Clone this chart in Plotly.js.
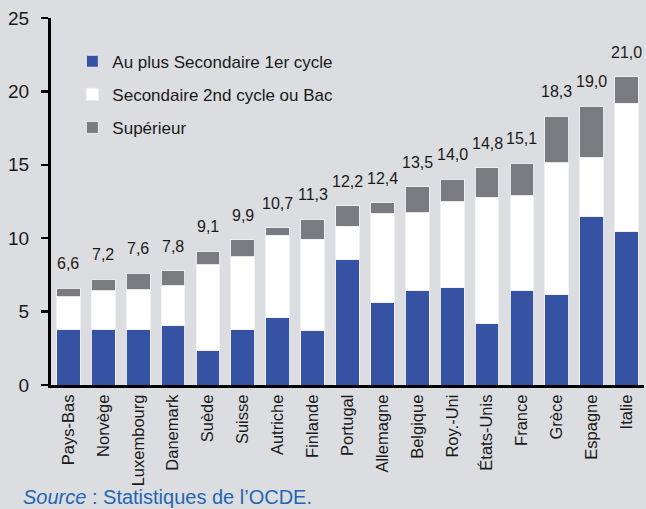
<!DOCTYPE html>
<html>
<head>
<meta charset="utf-8">
<script src="https://cdn.plot.ly/plotly-3.0.1.min.js"></script>
<style>html,body{margin:0;padding:0;background:#dcdde0;}</style>
</head>
<body>
<div id="chart" style="width:646px;height:509px;"></div>
<script>
const countries = ["Pays-Bas","Norvège","Luxembourg","Danemark","Suède","Suisse","Autriche","Finlande","Portugal","Allemagne","Belgique","Roy.-Uni","États-Unis","France","Grèce","Espagne","Italie"];
const seriesNames = ["Au plus Secondaire 1er cycle","Secondaire 2nd cycle ou Bac","Supérieur"];
const lowerSecondary = [3.8,3.75,3.77,4.04,2.32,3.75,4.57,3.7,8.52,5.64,6.43,6.61,4.16,6.45,6.16,11.5,10.45];
const upperSecondary = [2.2,2.68,2.73,2.73,5.88,5.0,5.63,6.23,2.28,6.04,5.32,5.89,8.64,6.43,8.99,4.0,8.75];
const tertiary = [0.6,0.77,1.1,1.03,0.9,1.15,0.5,1.37,1.4,0.72,1.75,1.5,2.0,2.22,3.15,3.5,1.8];
const totals = [6.6,7.2,7.6,7.8,9.1,9.9,10.7,11.3,12.2,12.4,13.5,14.0,14.8,15.1,18.3,19.0,21.0];
const yTicks = [0,5,10,15,20,25];

const colors = ["#3652a3","#ffffff","#7a7b80"];
const font = "Liberation Sans, Arial, sans-serif";

const seriesValues = [lowerSecondary, upperSecondary, tertiary];
const traces = seriesValues.map((vals, i) => ({
  type: "bar",
  name: seriesNames[i],
  x: countries,
  y: vals,
  legendgroup: "g" + i,
  marker: {color: colors[i], line: {color: "rgba(240,240,246,0.9)", width: 1}},
  hoverinfo: "skip"
}));

const annotations = countries.map((c, i) => ({
  x: c, y: totals[i], xref: "x", yref: "y",
  text: totals[i].toFixed(1).replace(".", ","),
  showarrow: false, yanchor: "bottom", yshift: 14,
  font: {family: font, size: 16, color: "#1a1a1a"}
}));
annotations.push({
  xref: "paper", yref: "paper", x: -0.05, y: -0.305,
  xanchor: "left", yanchor: "middle", showarrow: false,
  text: "<i>Source</i> : Statistiques de l’OCDE.",
  font: {family: font, size: 20, color: "#2466b3"}
});

const layout = {
  width: 646, height: 509,
  margin: {l: 51, r: 2, t: 17.5, b: 124},
  paper_bgcolor: "#dcdde0",
  plot_bgcolor: "#dcdde0",
  barmode: "stack",
  bargap: 0.32,
  showlegend: true,
  legend: {
    x: 0.036, y: 0.93, xanchor: "left", yanchor: "top",
    bgcolor: "rgba(0,0,0,0)",
    traceorder: "grouped", tracegroupgap: 8,
    font: {family: font, size: 17, color: "#1a1a1a"}
  },
  xaxis: {
    type: "category",
    range: [-0.5, 16.5],
    showline: true, linecolor: "#000", linewidth: 3,
    ticks: "", tickangle: -90,
    ticklabelstandoff: 0,
    tickfont: {family: font, size: 16.5, color: "#1a1a1a"},
    showgrid: false, zeroline: false, fixedrange: true
  },
  yaxis: {
    range: [0, 25],
    tickvals: yTicks,
    ticktext: yTicks.map(String),
    showline: true, linecolor: "#000", linewidth: 3,
    ticks: "outside", ticklen: 7, tickwidth: 2.5, tickcolor: "#000",
    ticklabelstandoff: 8,
    tickfont: {family: font, size: 19, color: "#1a1a1a"},
    showgrid: false, zeroline: false, fixedrange: true
  },
  annotations: annotations
};

Plotly.newPlot("chart", traces, layout, {displayModeBar: false, staticPlot: true});
</script>
</body>
</html>
